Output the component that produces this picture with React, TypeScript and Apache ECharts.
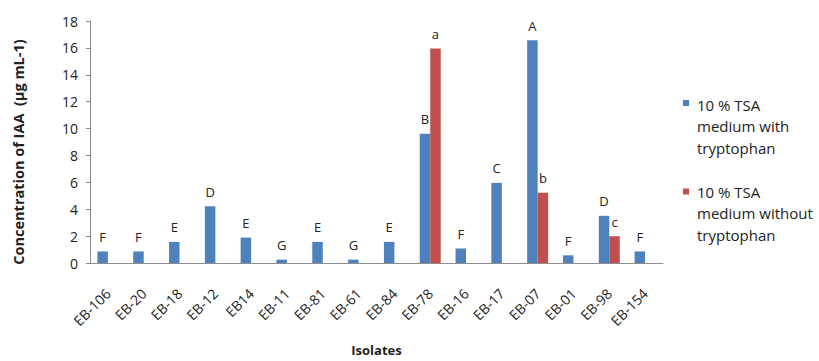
import React, { useEffect, useRef } from "react";
import * as echarts from "echarts";

const categories = ["EB-106", "EB-20", "EB-18", "EB-12", "EB14", "EB-11", "EB-81", "EB-61", "EB-84", "EB-78", "EB-16", "EB-17", "EB-07", "EB-01", "EB-98", "EB-154"];
const withTrp = [0.86, 0.86, 1.57, 4.22, 1.89, 0.25, 1.57, 0.25, 1.57, 9.62, 1.08, 5.96, 16.57, 0.57, 3.51, 0.86];
const withoutTrp = [null, null, null, null, null, null, null, null, null, 15.96, null, null, 5.23, null, 1.99, null];
const withLetters = ["F", "F", "E", "D", "E", "G", "E", "G", "E", "B", "F", "C", "A", "F", "D", "F"];
const withoutLetters = ["", "", "", "", "", "", "", "", "", "a", "", "", "b", "", "c", ""];
const seriesNames = ["10 % TSA\nmedium with\ntryptophan", "10 % TSA\nmedium without\ntryptophan"];
const colors = ["#4F81BD", "#C0504D"];
const FONT = "Open Sans";

export default function App() {
  const ref = useRef<HTMLDivElement>(null);
  useEffect(() => {
    const chart = echarts.init(ref.current!, null, { renderer: "svg" });
    chart.setOption({
      animation: false,
      textStyle: { fontFamily: FONT },
      grid: { left: 90, right: 156, top: 21, bottom: 96, containLabel: false },
      xAxis: {
        type: "category",
        data: categories,
        axisLine: { lineStyle: { color: "#8c8c8c" } },
        axisTick: { length: 6, lineStyle: { color: "#8c8c8c" } },
        axisLabel: { rotate: 45, margin: 28, fontSize: 14, color: "#222", fontFamily: FONT },
        name: "Isolates",
        nameLocation: "middle",
        nameGap: 80,
        nameTextStyle: { fontSize: 13, fontWeight: "bold", color: "#222", fontFamily: FONT },
      },
      yAxis: {
        type: "value",
        min: 0,
        max: 18,
        interval: 2,
        splitLine: { show: false },
        axisLine: { show: true, lineStyle: { color: "#8c8c8c" } },
        axisTick: { show: true, length: 4, lineStyle: { color: "#8c8c8c" } },
        axisLabel: { fontSize: 14, color: "#222", margin: 12, fontFamily: FONT },
      },
      series: [
        {
          type: "bar",
          name: seriesNames[0],
          data: withTrp,
          barWidth: 10.5,
          barGap: "0%",
          itemStyle: { color: colors[0] },
          label: {
            show: true,
            position: "top",
            distance: 8,
            fontSize: 13,
            color: "#222",
            fontFamily: FONT,
            formatter: (p: any) => withLetters[p.dataIndex],
          },
        },
        {
          type: "bar",
          name: seriesNames[1],
          data: withoutTrp,
          barWidth: 10.5,
          barGap: "0%",
          itemStyle: { color: colors[1] },
          label: {
            show: true,
            position: "top",
            distance: 8,
            fontSize: 13,
            color: "#222",
            fontFamily: FONT,
            formatter: (p: any) => withoutLetters[p.dataIndex],
          },
        },
      ],
      graphic: [
        {
          type: "text",
          x: 18,
          y: 152,
          rotation: Math.PI / 2,
          style: {
            text: "Concentration of IAA  (µg mL-1)",
            fontSize: 14.5,
            fontWeight: "bold",
            fill: "#222",
            fontFamily: FONT,
            align: "center",
            verticalAlign: "middle",
          },
        },
        { type: "rect", shape: { x: 683, y: 100, width: 6, height: 6 }, style: { fill: colors[0] } },
        {
          type: "text",
          x: 697,
          y: 94,
          style: { text: seriesNames[0], fontSize: 15, lineHeight: 21.5, fill: "#222", fontFamily: FONT, verticalAlign: "top" },
        },
        { type: "rect", shape: { x: 683, y: 188.5, width: 6, height: 6 }, style: { fill: colors[1] } },
        {
          type: "text",
          x: 697,
          y: 181,
          style: { text: seriesNames[1], fontSize: 15, lineHeight: 21.5, fill: "#222", fontFamily: FONT, verticalAlign: "top" },
        },
      ],
    });
    return () => chart.dispose();
  }, []);
  return <div ref={ref} style={{ position: "absolute", left: 0, top: 0, width: 819, height: 361 }} />;
}
